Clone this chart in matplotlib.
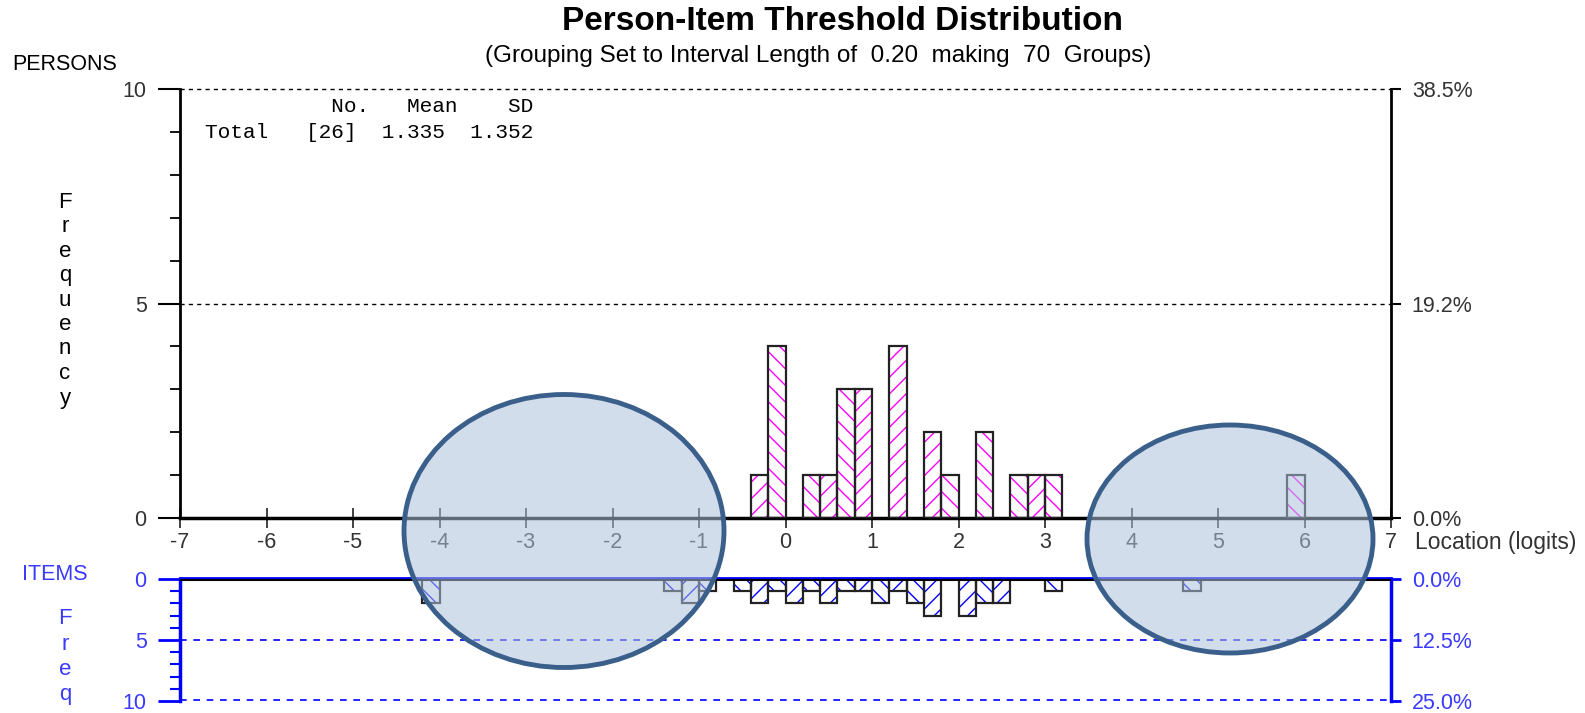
import matplotlib
matplotlib.use("Agg")
import matplotlib.pyplot as plt
from matplotlib.patches import Ellipse
from matplotlib.ticker import MultipleLocator

plt.rcParams["font.family"] = ["Liberation Sans", "DejaVu Sans"]

W, H = 1585, 713

# bins are 0.2 logit wide, given by their left edge
person_bins = [-0.4, -0.2, 0.2, 0.4, 0.6, 0.8, 1.2, 1.6, 1.8, 2.2, 2.6, 2.8, 3.0, 5.8]
person_counts = [1, 4, 1, 1, 3, 3, 4, 2, 1, 2, 1, 1, 1, 1]
item_bins = [-4.2, -1.4, -1.2, -1.0, -0.6, -0.4, -0.2, 0.0, 0.2, 0.4, 0.6, 0.8,
             1.0, 1.2, 1.4, 1.6, 2.0, 2.2, 2.4, 3.0, 4.6]
item_counts = [2, 1, 2, 1, 1, 2, 1, 2, 1, 2, 1, 1, 2, 1, 2, 3, 3, 2, 2, 1, 1]
x_ticks = list(range(-7, 8))
person_pct = ["0.0%", "19.2%", "38.5%"]
item_pct = ["0.0%", "12.5%", "25.0%"]
stats_head = "          No.   Mean    SD"
stats_row = "Total   [26]  1.335  1.352"

BIN = 0.2
MAGENTA = "#ff00ff"
BLUE = "#0000ff"
TXT_BLUE = "#3a3aff"
TXT = "#222222"
FS = 15.5


def fx(x):
    return x / W


def fy(y):
    return 1 - y / H


def hatches(bins):
    # hatch direction alternates with the bin number
    return ["//" if round((b + 7) / BIN) % 2 else "\\\\" for b in bins]


fig = plt.figure(figsize=(W / 100, H / 100), dpi=100)

# ---------- upper panel: persons ----------
ax = fig.add_axes([fx(180), fy(518), fx(1391) - fx(180), fy(89) - fy(518)])
ax.set_xlim(-7, 7)
ax.set_ylim(0, 10)
for b, c, h in zip(person_bins, person_counts, hatches(person_bins)):
    ax.bar(b, c, width=BIN, align="edge", color="white", edgecolor=MAGENTA,
           hatch=h, linewidth=0, zorder=2)
ax.bar(person_bins, person_counts, width=BIN, align="edge", fill=False,
       edgecolor=TXT, linewidth=1.6, zorder=3)
for yv in [5, 10]:
    ax.axhline(yv, color="black", lw=1, ls=(0, (3, 3)), zorder=1, clip_on=False)

ax.spines["top"].set_visible(False)
ax.spines["left"].set_linewidth(2)
ax.spines["right"].set_linewidth(2)
ax.spines["bottom"].set_linewidth(2.5)
ax.set_xticks(x_ticks)
ax.set_xticklabels([str(t) for t in x_ticks], fontsize=FS, color="#333333")
ax.tick_params(axis="x", direction="inout", length=14, width=1.3, pad=3,
               color="#333333")
ax.set_yticks([0, 5, 10])
ax.set_yticklabels(["0", "5", "10"], fontsize=FS, color="#333333")
ax.yaxis.set_minor_locator(MultipleLocator(1))
ax.tick_params(axis="y", which="major", length=16, width=1.5, pad=8)
ax.tick_params(axis="y", which="minor", length=7, width=1.3)

axr = ax.twinx()
axr.set_ylim(0, 10)
axr.set_yticks([0, 5, 10])
axr.set_yticklabels(person_pct, fontsize=FS, color="#333333")
axr.tick_params(axis="y", length=7, width=1.5, pad=8)
for s in ["top", "left", "bottom", "right"]:
    axr.spines[s].set_visible(False)

# ---------- lower panel: items ----------
ax2 = fig.add_axes([fx(180), fy(701), fx(1391) - fx(180), fy(579) - fy(701)])
ax2.set_xlim(-7, 7)
ax2.set_ylim(10, 0)
for b, c, h in zip(item_bins, item_counts, hatches(item_bins)):
    ax2.bar(b, c, width=BIN, align="edge", color="white", edgecolor=BLUE,
            hatch=h, linewidth=0, zorder=2)
ax2.bar(item_bins, item_counts, width=BIN, align="edge", fill=False,
        edgecolor=TXT, linewidth=1.6, zorder=3)
for yv in [5, 9.95]:
    ax2.axhline(yv, color=BLUE, lw=1.2, ls=(0, (4, 4)), zorder=1, clip_on=False)
ax2.axhline(-0.1, color=BLUE, lw=2, zorder=4, clip_on=False)
ax2.axhline(0.1, color="black", lw=1.5, zorder=4)

ax2.spines["top"].set_visible(False)
ax2.spines["bottom"].set_visible(False)
for s in ["left", "right"]:
    ax2.spines[s].set_color(BLUE)
    ax2.spines[s].set_linewidth(2.5)
ax2.set_xticks([])
ax2.set_yticks([0, 5, 10])
ax2.set_yticklabels(["0", "5", "10"], fontsize=FS, color=TXT_BLUE)
ax2.yaxis.set_minor_locator(MultipleLocator(1))
ax2.tick_params(axis="y", which="major", length=16, width=2, color=BLUE, pad=8)
ax2.tick_params(axis="y", which="minor", length=7, width=1.5, color=BLUE)

ax2r = ax2.twinx()
ax2r.set_ylim(10, 0)
ax2r.set_yticks([0, 5, 10])
ax2r.set_yticklabels(item_pct, fontsize=FS, color=TXT_BLUE)
ax2r.tick_params(axis="y", length=7, width=2, color=BLUE, pad=8)
for s in ["top", "left", "bottom", "right"]:
    ax2r.spines[s].set_visible(False)

# ---------- texts ----------
fig.text(fx(842), fy(22), "Person-Item Threshold Distribution", ha="center",
         va="center", fontsize=24, fontweight="bold")
fig.text(fx(818), fy(56), "(Grouping Set to Interval Length of  0.20  making  70  Groups)",
         ha="center", va="center", fontsize=17.5)
fig.text(fx(12), fy(64), "PERSONS", ha="left", va="center", fontsize=FS)
fig.text(fx(22), fy(574), "ITEMS", ha="left", va="center", fontsize=FS,
         color=TXT_BLUE)
fig.text(fx(1415), fy(543), "Location (logits)", ha="left", va="center",
         fontsize=16.5, color="#333333")
for i, ch in enumerate("Frequency"):
    fig.text(fx(65), fy(202 + i * 24.5), ch, ha="center", va="center", fontsize=16)
for i, ch in enumerate("Freq"):
    fig.text(fx(65), fy(619 + i * 25.3), ch, ha="center", va="center",
             fontsize=16, color=TXT_BLUE)
fig.text(fx(205), fy(107), stats_head, ha="left", va="center", fontsize=15.2,
         family="Liberation Mono")
fig.text(fx(205), fy(132), stats_row, ha="left", va="center", fontsize=15.2,
         family="Liberation Mono")

# ---------- highlight ellipses ----------
for cx, cy, ew, eh in [(564, 531, 320, 273), (1230, 539, 286, 228)]:
    fig.add_artist(Ellipse((fx(cx), fy(cy)), ew / W, eh / H,
                           transform=fig.transFigure, facecolor="#aec2dc",
                           alpha=0.55, edgecolor="none", zorder=5))
    fig.add_artist(Ellipse((fx(cx), fy(cy)), ew / W, eh / H,
                           transform=fig.transFigure, facecolor="none",
                           edgecolor="#3a5f8a", linewidth=3.5, zorder=6))

fig.savefig("out.png", dpi=100)
